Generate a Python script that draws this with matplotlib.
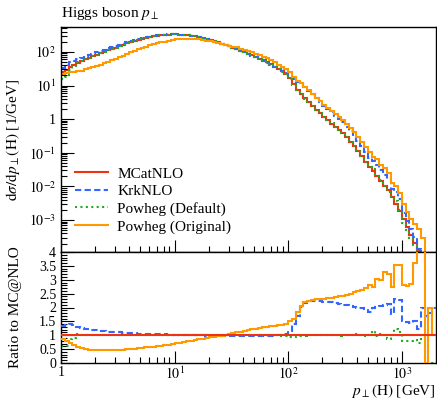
import numpy as np
import matplotlib
matplotlib.use("Agg")
import matplotlib.pyplot as plt
from matplotlib.ticker import FuncFormatter, FixedLocator, MultipleLocator

plt.rcParams['font.family'] = ['Liberation Serif', 'DejaVu Serif']
plt.rcParams['mathtext.fontset'] = 'stix'

# ---- data (30 log bins per decade, 1 GeV .. ~2 TeV) ----
bins_per_decade = 30
n_bins = 99

# MCatNLO spectrum, log10(dsigma/dpT [1/GeV]) per bin
mcatnlo_log10 = [
    1.40, 1.47, 1.54, 1.60, 1.66, 1.72, 1.78, 1.83, 1.87, 1.92,
    1.96, 2.01, 2.05, 2.09, 2.13, 2.17, 2.21, 2.25, 2.29, 2.32,
    2.35, 2.38, 2.41, 2.44, 2.46, 2.48, 2.49, 2.50, 2.51, 2.52,
    2.52, 2.51, 2.51, 2.50, 2.48, 2.46, 2.44, 2.41, 2.38, 2.35,
    2.31, 2.28, 2.24, 2.21, 2.17, 2.13, 2.09, 2.04, 2.00, 1.95,
    1.90, 1.85, 1.80, 1.75, 1.69, 1.63, 1.56, 1.49, 1.42, 1.35,
    1.22, 1.05, 0.88, 0.75, 0.62, 0.50, 0.39, 0.28, 0.17, 0.06,
    -0.04, -0.13, -0.23, -0.33, -0.42, -0.54, -0.67, -0.80, -0.94, -1.10,
    -1.27, -1.42, -1.55, -1.68, -1.83, -1.98, -2.12, -2.32, -2.53, -2.74,
    -2.97, -3.20, -3.44, -3.68, -3.93, -4.18, -4.42, -4.66, -4.90,
]

# Ratios to MC@NLO
krknlo_ratio = [
    1.32, 1.36, 1.40, 1.36, 1.30, 1.27, 1.24, 1.22, 1.20, 1.18,
    1.16, 1.15, 1.13, 1.12, 1.11, 1.10, 1.09, 1.08, 1.07, 1.07,
    1.06, 1.05, 1.05, 1.04, 1.04, 1.03, 1.03, 1.03, 1.02, 1.02,
    1.02, 1.01, 1.01, 1.01, 1.00, 1.00, 1.00, 1.00, 0.99, 0.99,
    0.99, 0.98, 0.98, 0.98, 0.98, 0.98, 0.97, 0.97, 0.97, 0.97,
    0.97, 0.97, 0.97, 0.97, 0.97, 0.98, 0.98, 1.00, 1.02, 1.05,
    1.15, 1.40, 1.71, 2.01, 2.17, 2.22, 2.23, 2.23, 2.22, 2.21,
    2.20, 2.19, 2.16, 2.12, 2.10, 2.08, 2.06, 2.02, 2.00, 1.97,
    1.93, 1.82, 1.98, 2.02, 2.06, 2.10, 2.12, 1.76, 2.31, 2.28,
    1.51, 1.46, 1.45, 1.51, 1.21, 2.00, 1.70, 1.80, 2.00,
]

powheg_default_ratio = [
    0.62, 0.60, 0.85, 0.90, 1.06, 1.00, 1.00, 1.00, 1.00, 1.00,
    1.00, 1.00, 1.00, 1.00, 1.00, 1.00, 1.00, 1.00, 1.00, 1.00,
    1.00, 1.00, 1.00, 1.00, 1.00, 1.00, 1.00, 1.00, 1.00, 1.00,
    1.00, 1.00, 1.00, 1.00, 1.00, 1.00, 1.00, 1.00, 1.00, 1.00,
    1.00, 1.00, 1.00, 1.00, 1.00, 1.00, 1.00, 1.00, 1.00, 1.00,
    1.00, 1.00, 1.00, 1.00, 1.00, 1.00, 1.00, 1.00, 0.98, 0.96,
    0.95, 0.95, 0.96, 0.97, 0.98, 1.00, 1.00, 1.00, 1.00, 1.00,
    1.00, 1.01, 1.00, 1.00, 0.99, 1.00, 1.02, 1.00, 1.05, 1.00,
    0.97, 1.01, 1.15, 0.98, 1.05, 1.00, 0.88, 1.00, 1.21, 1.10,
    0.78, 0.80, 0.78, 0.84, 0.72, 1.00, 0.90, 0.00, 0.00,
]

powheg_original_ratio = [
    0.86, 0.80, 0.72, 0.64, 0.58, 0.53, 0.50, 0.48, 0.47, 0.46,
    0.46, 0.46, 0.46, 0.46, 0.47, 0.47, 0.48, 0.49, 0.50, 0.52,
    0.53, 0.55, 0.56, 0.58, 0.59, 0.61, 0.62, 0.64, 0.66, 0.68,
    0.71, 0.73, 0.75, 0.78, 0.80, 0.83, 0.85, 0.88, 0.90, 0.92,
    0.95, 0.97, 0.99, 1.02, 1.04, 1.07, 1.10, 1.13, 1.16, 1.19,
    1.22, 1.24, 1.26, 1.28, 1.30, 1.32, 1.34, 1.36, 1.38, 1.42,
    1.50, 1.58, 1.85, 2.07, 2.20, 2.25, 2.27, 2.29, 2.31, 2.32,
    2.33, 2.35, 2.38, 2.43, 2.40, 2.46, 2.50, 2.55, 2.58, 2.62,
    2.70, 2.80, 2.75, 3.04, 2.98, 3.28, 3.22, 2.73, 3.53, 3.53,
    2.80, 2.78, 2.86, 3.59, 4.50, 4.50, 0.00, 2.00, 1.00,
]

labels = ["MCatNLO", "KrkNLO", "Powheg (Default)", "Powheg (Original)"]
colors = ["#ee3311", "#3366ff", "#22aa22", "#ff9900"]

# ---- derived ----
edges = 10.0 ** (np.arange(n_bins + 1) / bins_per_decade)
mc = 10.0 ** np.array(mcatnlo_log10)
ratios = [np.ones(n_bins), np.array(krknlo_ratio),
          np.array(powheg_default_ratio), np.array(powheg_original_ratio)]
spectra = [np.where(r > 0, mc * r, 1e-12) for r in ratios]

W, H = 437, 399
fig = plt.figure(figsize=(W / 100, H / 100), dpi=100)
ax = fig.add_axes([61 / W, 1 - 252 / H, 375 / W, 225 / H])
rx = fig.add_axes([61 / W, 1 - 363 / H, 375 / W, 111 / H], sharex=ax)

styles = [dict(ls='-'), dict(ls=(0, (3, 1.6))), dict(ls=(0, (1, 1.6))), dict(ls='-')]
lw = 1.5
for i in range(4):
    ax.stairs(spectra[i], edges, color=colors[i], lw=lw, label=labels[i],
              baseline=None, **styles[i])
zo = [5, 3, 2, 4]
for i in range(4):
    rx.stairs(ratios[i], edges, color=colors[i], lw=lw, baseline=None,
              zorder=zo[i], **styles[i])

ax.set_xscale('log')
ax.set_yscale('log')
ax.set_xlim(1, edges[-1])
ax.set_ylim(10 ** -3.95, 10 ** 2.74)
rx.set_ylim(0, 4)


def logfmt(v, pos):
    e = int(round(np.log10(v)))
    if e == 0:
        return '1'
    return r'$10^{%d}$' % e


ax.yaxis.set_major_locator(FixedLocator([10.0 ** e for e in range(-3, 3)]))
ax.yaxis.set_major_formatter(FuncFormatter(logfmt))
minors = [m * 10.0 ** e for e in range(-4, 3) for m in range(2, 10)]
ax.yaxis.set_minor_locator(FixedLocator(minors))
ax.yaxis.set_minor_formatter(FuncFormatter(lambda v, p: ''))

rx.xaxis.set_major_locator(FixedLocator([1, 10, 100, 1000]))
rx.xaxis.set_major_formatter(FuncFormatter(logfmt))
xminors = [m * 10.0 ** e for e in range(0, 4) for m in range(2, 10)]
rx.xaxis.set_minor_locator(FixedLocator(xminors))
rx.xaxis.set_minor_formatter(FuncFormatter(lambda v, p: ''))
plt.setp(ax.get_xticklabels(), visible=False)

rx.yaxis.set_major_locator(MultipleLocator(0.5))
rx.yaxis.set_minor_locator(MultipleLocator(0.1))
rx.yaxis.set_major_formatter(FuncFormatter(lambda v, p: '%g' % v))

for a in (ax, rx):
    a.tick_params(which='both', direction='in', top=False, right=False,
                  labelsize=10, width=0.8)
    a.tick_params(which='major', length=9)
    a.tick_params(which='minor', length=4.5)
    for s in a.spines.values():
        s.set_linewidth(1.0)
rx.tick_params(axis='x', which='major', pad=2)

fig.text(61 / W, 1 - 17 / H, r'Higgs boson $p_\perp$', fontsize=11,
         ha='left', va='baseline')
ax.set_ylabel(r'$\mathrm{d}\sigma/\mathrm{d}p_\perp(\mathrm{H})$ [1/GeV]',
              fontsize=11)
rx.set_ylabel('Ratio to MC@NLO', fontsize=11)
ax.yaxis.set_label_coords(-0.105, 0.5)
rx.yaxis.set_label_coords(-0.105, 0.5)
fig.text(436 / W, 1 - 395 / H, r'$p_\perp(\mathrm{H})$ [GeV]', fontsize=11,
         ha='right', va='baseline')

ax.legend(loc='upper left', bbox_to_anchor=(0.02, 0.405), frameon=False,
          fontsize=11, handlelength=2.2, handletextpad=0.6,
          labelspacing=0.25, borderaxespad=0)

fig.savefig('out.png', dpi=100)
